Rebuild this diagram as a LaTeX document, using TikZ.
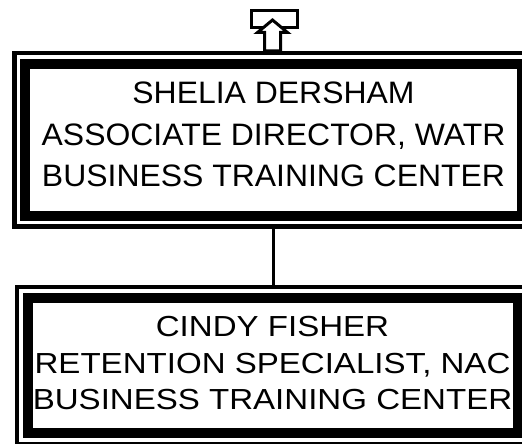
\documentclass[tikz,border=0pt]{standalone}
\usepackage{fontspec}
\setmainfont{Liberation Sans}
\newfontfamily\topfont[FakeStretch=1.03]{Liberation Sans}
\newfontfamily\botfont[FakeStretch=1.14]{Liberation Sans}
\tikzset{
    orgbox/.style={draw=black,fill=white,line width=10pt,inner sep=0pt,outer sep=13pt,
        preaction={draw=black,line width=26pt},
        preaction={draw=white,line width=17pt}},
    orgtext/.style={align=center,inner sep=0pt}
}
\begin{document}
\begin{tikzpicture}[x=1pt,y=-1pt]
    \useasboundingbox (0,0) rectangle (522,444);
    \clip (0,0) rectangle (522,444);
    \node[orgbox,minimum width=497pt,minimum height=151.5pt] (shelia) at (273.5,139.75) {};
    \node[orgtext,font=\topfont\fontsize{31}{41.5}\selectfont] (shelia-txt) at ([yshift=5pt]shelia.center)
        {SHELIA DERSHAM\\ASSOCIATE DIRECTOR, WATR\\BUSINESS TRAINING CENTER};
    \node[orgbox,minimum width=490pt,minimum height=135.5pt] (cindy) at (272.5,365.25) {};
    \node[orgtext,font=\botfont\fontsize{29}{36.5}\selectfont] (cindy-txt) at ([yshift=1.75pt]cindy.center)
        {CINDY FISHER\\RETENTION SPECIALIST, NAC\\BUSINESS TRAINING CENTER};
    \draw[line width=3pt] (shelia.south) -- (shelia.south |- cindy.north);
    \draw[line width=3pt] (251.5,10.5) rectangle (297.5,27.5);
    \draw[line width=3pt,fill=white] (272.5,20) -- (287.5,32.5) -- (280.5,32.5) -- (280.5,51)
        -- (264.5,51) -- (264.5,32.5) -- (257.5,32.5) -- cycle;
\end{tikzpicture}
\end{document}
